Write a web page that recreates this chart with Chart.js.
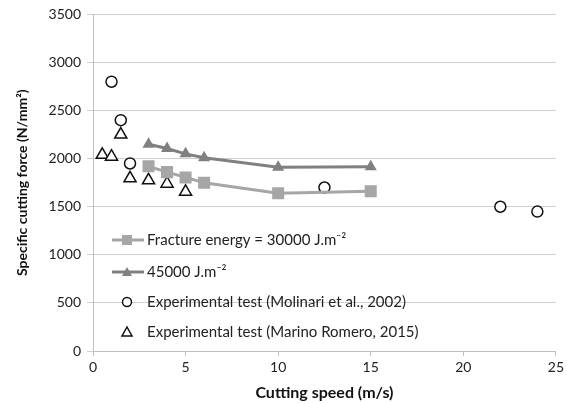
<!DOCTYPE html>
<html>
<head>
<meta charset="utf-8">
<script src="https://cdn.jsdelivr.net/npm/chart.js@4"></script>
<style>
  html, body { margin: 0; padding: 0; background: #fff; }
  #wrap { width: 567px; height: 403px; }
</style>
</head>
<body>
<div id="wrap"><canvas id="chart"></canvas></div>
<script>
// Data
const simSpeeds = [3, 4, 5, 6, 10, 15];
const force30000 = [1920, 1860, 1805, 1750, 1640, 1660];
const force45000 = [2150, 2105, 2050, 2010, 1910, 1915];

const molinariSpeeds = [1, 1.5, 2, 12.5, 22, 24];
const molinariForce = [2800, 2400, 1950, 1700, 1500, 1450];

const marinoSpeeds = [0.5, 1, 1.5, 2, 3, 4, 5];
const marinoForce = [2040, 2020, 2250, 1795, 1775, 1740, 1655];

const xTicks = [0, 5, 10, 15, 20, 25];
const yTicks = [0, 500, 1000, 1500, 2000, 2500, 3000, 3500];

const legendLabels = [
  "Fracture energy = 30000 J.m\u207B\u00B2",
  "45000 J.m\u207B\u00B2",
  "Experimental test (Molinari et al., 2002)",
  "Experimental test (Marino Romero, 2015)"
];

const toPoints = (xs, ys) => xs.map((x, i) => ({ x: x, y: ys[i] }));
const FONT = "Lato, 'Open Sans', sans-serif";

// Legend drawn inside the plot like the original (line + marker samples)
const insideLegend = {
  id: "insideLegend",
  afterDatasetsDraw(chart) {
    const ctx = chart.ctx;
    const area = chart.chartArea;
    const x0 = area.left + 19;
    const rowY = [240, 272, 302, 332];
    ctx.save();
    ctx.font = "15px " + FONT;
    ctx.textBaseline = "middle";
    chart.data.datasets.forEach((ds, i) => {
      const y = rowY[i];
      const cx = x0 + 15;
      if (ds.showLine) {
        ctx.strokeStyle = ds.borderColor;
        ctx.lineWidth = 3;
        ctx.beginPath();
        ctx.moveTo(x0, y);
        ctx.lineTo(x0 + 32, y);
        ctx.stroke();
      }
      ctx.fillStyle = ds.pointBackgroundColor;
      ctx.strokeStyle = ds.pointBorderColor;
      ctx.lineWidth = ds.pointBorderWidth;
      ctx.beginPath();
      if (ds.pointStyle === "rect") {
        ctx.rect(cx - 5, y - 5, 10, 10);
        ctx.fill();
      } else if (ds.pointStyle === "triangle") {
        const r = 5;
        ctx.moveTo(cx, y - r);
        ctx.lineTo(cx + r, y + r * 0.8);
        ctx.lineTo(cx - r, y + r * 0.8);
        ctx.closePath();
        ctx.fill();
        if (!ds.showLine) ctx.stroke();
      } else {
        ctx.arc(cx, y, 4.5, 0, Math.PI * 2);
        ctx.fill();
        ctx.stroke();
      }
      ctx.fillStyle = "#222";
      ctx.fillText(legendLabels[i], x0 + 35, y);
    });
    ctx.restore();
  }
};

new Chart(document.getElementById("chart"), {
  type: "scatter",
  data: {
    datasets: [
      {
        label: legendLabels[0],
        data: toPoints(simSpeeds, force30000),
        showLine: true,
        borderColor: "#a6a6a6",
        borderWidth: 3,
        pointStyle: "rect",
        pointRadius: 8.5,
        pointBackgroundColor: "#a6a6a6",
        pointBorderColor: "#a6a6a6",
        pointBorderWidth: 0
      },
      {
        label: legendLabels[1],
        data: toPoints(simSpeeds, force45000),
        showLine: true,
        borderColor: "#808080",
        borderWidth: 3,
        pointStyle: "triangle",
        pointRadius: 7,
        pointBackgroundColor: "#808080",
        pointBorderColor: "#808080",
        pointBorderWidth: 0
      },
      {
        label: legendLabels[2],
        data: toPoints(molinariSpeeds, molinariForce),
        showLine: false,
        pointStyle: "circle",
        pointRadius: 5.5,
        pointBackgroundColor: "#ffffff",
        pointBorderColor: "#111111",
        pointBorderWidth: 1.5
      },
      {
        label: legendLabels[3],
        data: toPoints(marinoSpeeds, marinoForce),
        showLine: false,
        pointStyle: "triangle",
        pointRadius: 7,
        pointBackgroundColor: "#ffffff",
        pointBorderColor: "#111111",
        pointBorderWidth: 1.5
      }
    ]
  },
  options: {
    responsive: true,
    maintainAspectRatio: false,
    animation: false,
    layout: { padding: { top: 9, right: 8, left: 0, bottom: 0 } },
    plugins: { legend: { display: false }, tooltip: { enabled: false } },
    scales: {
      x: {
        type: "linear",
        min: 0,
        max: 25,
        afterBuildTicks: axis => { axis.ticks = xTicks.map(v => ({ value: v })); },
        afterFit: axis => { axis.height = 52; },
        grid: { drawOnChartArea: false, color: "#bfbfbf", tickLength: 5 },
        border: { color: "#bfbfbf" },
        ticks: { color: "#222", font: { family: FONT, size: 14 }, padding: 3 },
        title: {
          display: true,
          text: "Cutting speed (m/s)",
          color: "#111",
          font: { family: FONT, size: 16, weight: "bold" },
          padding: { top: 0, bottom: 1 }
        }
      },
      y: {
        min: 0,
        max: 3500,
        afterBuildTicks: axis => { axis.ticks = yTicks.map(v => ({ value: v })); },
        afterFit: axis => { axis.width = 93; },
        grid: { color: "#cfcfcf", tickLength: 6 },
        border: { color: "#bfbfbf" },
        ticks: {
          color: "#222",
          font: { family: FONT, size: 14 },
          padding: 6,
          callback: v => String(v)
        },
        title: {
          display: true,
          text: "Specific cutting force (N/mm\u00B2)",
          color: "#111",
          font: { family: FONT, size: 14, weight: "bold" },
          padding: { top: 14, bottom: 4 }
        }
      }
    }
  },
  plugins: [insideLegend]
});
</script>
</body>
</html>
